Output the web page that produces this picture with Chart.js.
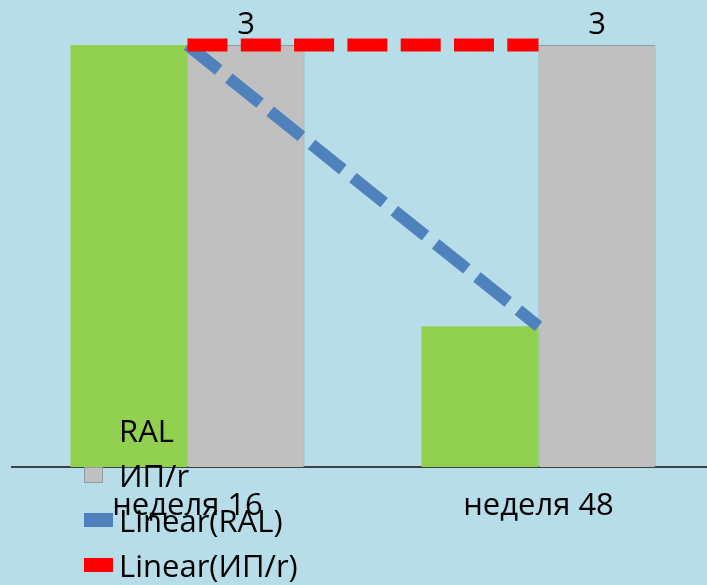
<!DOCTYPE html>
<html>
<head>
<meta charset="utf-8">
<script src="https://cdn.jsdelivr.net/npm/chart.js@4"></script>
<style>
  html, body { margin: 0; padding: 0; background: #b7dde8; overflow: hidden; }
  #wrap { width: 707px; height: 585px; overflow: hidden; position: relative; }
  #wrap canvas { position: absolute; left: 0; top: 0; }
</style>
</head>
<body>
<div id="wrap"><canvas id="chart" width="720" height="585"></canvas></div>
<script>
const categories = ["неделя 16", "неделя 48"];
const ralValues = [3, 1];
const ipValues = [3, 3];
const ralTrend = [3, 1];
const ipTrend = [3, 3];
const legendLabels = ["RAL", "ИП/r", "Linear(RAL)", "Linear(ИП/r)"];

const FONT = "'Open Sans', 'Noto Sans', sans-serif";

// value labels above grey bars
const valueLabels = {
  id: "valueLabels",
  afterDatasetsDraw(chart) {
    const ctx = chart.ctx;
    const meta = chart.getDatasetMeta(1);
    ctx.save();
    ctx.fillStyle = "#000";
    ctx.font = "31px " + FONT;
    ctx.textAlign = "center";
    ctx.textBaseline = "middle";
    meta.data.forEach((bar, i) => {
      ctx.fillText(String(ipValues[i]), bar.x, bar.y - 20);
    });
    ctx.restore();
  }
};

// legend drawn on top, overlapping the plot like the original
const overlayLegend = {
  id: "overlayLegend",
  afterDraw(chart) {
    const ctx = chart.ctx;
    const ds = chart.data.datasets;
    const x0 = 84, tx = 119, y0 = 431, step = 45;
    ctx.save();
    ctx.font = "31px " + FONT;
    ctx.textBaseline = "middle";
    ds.forEach((d, i) => {
      const y = y0 + i * step;
      if (d.type === "line") {
        ctx.fillStyle = d.borderColor;
        ctx.fillRect(x0, y - 8, 29, 14);
      } else {
        ctx.fillStyle = d.backgroundColor;
        ctx.fillRect(x0, y - 9, 19, 16);
        ctx.strokeStyle = d.borderColor || d.backgroundColor;
        ctx.lineWidth = 1;
        ctx.strokeRect(x0 + 0.5, y - 8.5, 18, 15);
      }
      ctx.fillStyle = "#000";
      ctx.fillText(d.label, tx, y + 2);
    });
    ctx.restore();
  }
};

new Chart(document.getElementById("chart"), {
  data: {
    labels: categories,
    datasets: [
      {
        type: "bar",
        label: legendLabels[0],
        data: ralValues,
        backgroundColor: "#92d050",
        borderColor: "#92d050",
        borderWidth: 0,
        order: 3
      },
      {
        type: "bar",
        label: legendLabels[1],
        data: ipValues,
        backgroundColor: "#c0c0c0",
        borderColor: "#8f9ba3",
        borderWidth: 1,
        order: 3
      },
      {
        type: "line",
        label: legendLabels[2],
        data: ralTrend,
        borderColor: "#4f81bd",
        backgroundColor: "#4f81bd",
        borderWidth: 12,
        borderDash: [40, 13],
        borderCapStyle: "butt",
        pointRadius: 0,
        tension: 0,
        clip: false,
        order: 2
      },
      {
        type: "line",
        label: legendLabels[3],
        data: ipTrend,
        borderColor: "#ff0000",
        backgroundColor: "#ff0000",
        borderWidth: 13,
        borderDash: [40, 13.3],
        borderCapStyle: "butt",
        pointRadius: 0,
        tension: 0,
        clip: false,
        order: 1
      }
    ]
  },
  options: {
    responsive: false,
    animation: false,
    layout: { padding: { left: 12, right: 6, top: 45, bottom: 0 } },
    datasets: {
      bar: { categoryPercentage: 0.6667, barPercentage: 1 }
    },
    plugins: {
      legend: { display: false },
      tooltip: { enabled: false }
    },
    scales: {
      x: {
        offset: true,
        grid: { display: false },
        border: { display: true, color: "#404040", width: 2 },
        ticks: {
          color: "#000",
          font: { family: FONT, size: 31 },
          padding: 13,
          maxRotation: 0
        },
        afterFit(scale) { scale.height = 118; }
      },
      y: {
        display: false,
        min: 0,
        max: 3
      }
    }
  },
  plugins: [valueLabels, overlayLegend]
});
</script>
</body>
</html>
